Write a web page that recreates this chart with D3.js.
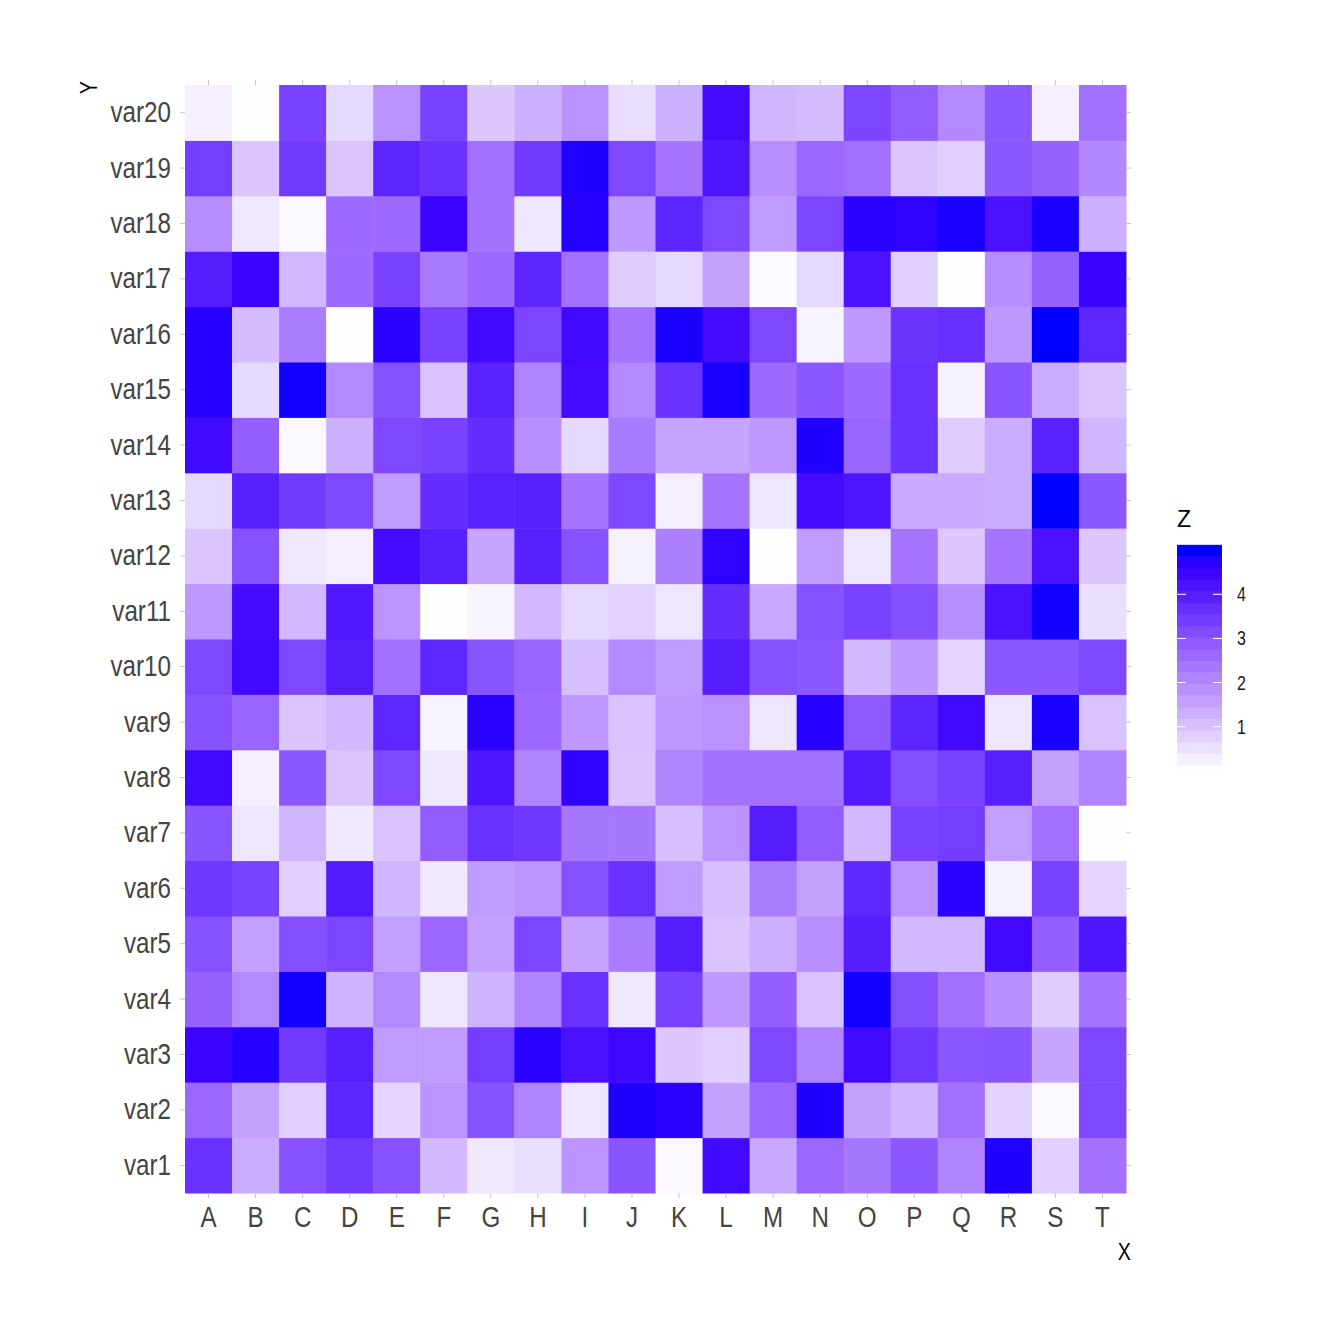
<!DOCTYPE html>
<html>
<head>
<meta charset="utf-8">
<script src="https://cdn.jsdelivr.net/npm/d3@7"></script>
<style>
  body { margin: 0; background: #fff; }
  text { font-family: "Liberation Sans", Arial, sans-serif; }
</style>
</head>
<body>
<div id="heatmap"></div>
<script>
var svgWidth = 1344;
var svgHeight = 1344;

var panel = { left: 185, right: 1126, top: 85, bottom: 1193 };
var narrow = 0.82; // squeeze Arial into an Arial Narrow look

// categories
var xCats = ["A","B","C","D","E","F","G","H","I","J","K","L","M","N","O","P","Q","R","S","T"];
var yCats = d3.range(1, 21).map(d => "var" + d);
var legendTicks = [1, 2, 3, 4];

// Z values, one row per y category, columns A..T
var zVar1  = [3.6,1.35,3.05,3.45,3.05,1.15,0.4,0.55,1.8,3.0,0.15,4.4,1.45,2.65,2.35,2.95,2.1,4.8,0.8,2.45];
var zVar2  = [2.65,1.55,0.8,3.85,0.7,1.8,3.05,2.1,0.45,4.8,4.7,1.55,2.65,4.8,1.55,1.2,2.5,0.75,0.15,3.2];
var zVar3  = [4.5,4.75,3.45,3.95,1.65,1.65,3.4,4.7,4.25,4.45,0.9,0.8,3.2,2.1,4.4,3.5,2.95,3.0,1.5,3.2];
var zVar4  = [2.75,2.0,4.9,1.25,2.0,0.45,1.25,2.1,3.6,0.4,3.3,1.7,2.8,1.0,4.9,3.1,2.45,1.9,0.85,2.4];
var zVar5  = [3.05,1.6,3.1,3.25,1.6,2.65,1.6,3.25,1.5,2.25,4.0,0.95,1.3,1.9,4.0,1.15,1.15,4.4,2.8,4.15];
var zVar6  = [3.5,3.3,0.8,4.05,1.2,0.4,1.65,1.8,3.05,3.6,1.65,1.05,2.25,1.55,3.8,1.8,4.7,0.25,3.3,0.7];
var zVar7  = [3.0,0.45,1.2,0.4,1.0,2.85,3.6,3.5,2.35,2.35,1.05,1.8,4.0,2.85,1.15,3.3,3.4,1.6,2.5,0.05];
var zVar8  = [4.4,0.3,2.95,0.95,3.2,0.4,4.15,2.1,4.65,0.95,2.1,2.45,2.45,2.45,4.05,3.1,3.3,3.95,1.55,2.1];
var zVar9  = [3.05,2.7,0.95,1.15,3.8,0.2,4.7,2.65,1.7,1.0,1.75,1.85,0.45,4.75,2.9,3.85,4.4,0.45,4.85,1.0];
var zVar10 = [3.2,4.4,3.2,4.0,2.5,3.8,3.0,2.7,1.05,2.0,1.65,4.0,3.05,2.95,1.15,1.7,0.7,2.95,2.95,3.2];
var zVar11 = [1.75,4.35,1.15,4.1,1.8,0.02,0.2,1.15,0.65,0.75,0.45,3.7,1.45,3.05,3.3,3.1,1.9,4.2,4.9,0.55];
var zVar12 = [0.95,3.05,0.4,0.3,4.35,3.95,1.5,3.95,3.05,0.25,2.2,4.65,0.05,1.65,0.45,2.4,0.9,2.4,4.2,0.9];
var zVar13 = [0.65,3.95,3.45,3.2,1.65,3.7,3.9,3.95,2.4,3.2,0.3,2.4,0.45,4.35,4.15,1.4,1.4,1.35,4.98,2.95];
var zVar14 = [4.4,2.8,0.15,1.3,3.2,3.3,3.7,1.9,0.65,2.3,1.5,1.5,1.75,4.8,2.7,3.6,0.85,1.35,3.9,1.2];
var zVar15 = [4.75,0.65,4.9,2.0,3.05,1.0,3.9,2.1,4.35,2.0,3.6,4.85,2.6,2.95,2.6,3.6,0.25,3.0,1.35,0.95];
var zVar16 = [4.75,1.1,2.25,0.04,4.7,3.3,4.4,3.25,4.4,2.4,4.85,4.35,3.2,0.22,1.7,3.55,3.65,1.7,4.99,3.8];
var zVar17 = [4.0,4.5,1.15,2.6,3.3,2.3,2.6,3.85,2.5,0.85,0.65,1.55,0.07,0.65,4.2,0.8,0.01,1.95,2.75,4.55];
var zVar18 = [1.95,0.4,0.15,2.6,2.6,4.5,2.45,0.45,4.75,1.7,3.85,3.2,1.65,3.25,4.7,4.65,4.85,4.2,4.85,1.3];
var zVar19 = [3.4,0.95,3.45,0.95,3.85,3.6,2.5,3.45,4.8,3.2,2.4,4.15,1.9,2.65,2.5,0.95,0.8,2.95,2.75,2.05];
var zVar20 = [0.28,0.03,3.3,0.65,1.85,3.3,0.9,1.3,1.85,0.6,1.3,4.35,1.2,1.1,3.25,2.85,2.0,2.95,0.28,2.5];

var zRows = [zVar1, zVar2, zVar3, zVar4, zVar5, zVar6, zVar7, zVar8, zVar9, zVar10,
  zVar11, zVar12, zVar13, zVar14, zVar15, zVar16, zVar17, zVar18, zVar19, zVar20];

// fill ramp (white -> blue through violet)
var rampStops  = [0, 0.3, 0.6, 0.9, 1.2, 1.5, 1.8, 2.1, 2.4, 2.7, 3.0, 3.3, 3.6, 3.9, 4.2, 4.5, 4.8, 5.0];
var rampColors = ["#ffffff","#f4eeff","#e8dcff","#dcc8ff","#d0b6ff","#c6a4ff","#bc94ff","#b084ff","#a674ff",
  "#9a64ff","#8a54ff","#7a42ff","#6a32ff","#5a22ff","#4c12ff","#3c04ff","#2200ff","#0000ff"];

// flatten into cells
var cells = [];
zRows.forEach(function(row, i) {
  row.forEach(function(z, j) {
    cells.push({ x: xCats[j], y: yCats[i], z: z });
  });
});

var svg = d3.select("#heatmap")
  .append("svg")
  .attr("width", svgWidth)
  .attr("height", svgHeight);

var xScale = d3.scaleBand().domain(xCats).range([panel.left, panel.right]);
var yScale = d3.scaleBand().domain(yCats).range([panel.bottom, panel.top]);

var colorScale = d3.scaleLinear()
  .domain(rampStops)
  .range(rampColors)
  .interpolate(d3.interpolateRgb)
  .clamp(true);

// tiles
svg.append("g")
  .selectAll("rect")
  .data(cells)
  .enter()
  .append("rect")
  .attr("x", d => xScale(d.x))
  .attr("y", d => yScale(d.y))
  .attr("width", xScale.bandwidth() + 0.5)
  .attr("height", yScale.bandwidth() + 0.5)
  .attr("fill", d => colorScale(d.z));

// axes
function styleAxis(g, showText) {
  g.select(".domain").remove();
  g.selectAll(".tick line").attr("stroke", "#c4c4c4").attr("stroke-width", 1);
  g.selectAll(".tick text")
    .attr("fill", "#444444")
    .style("font-size", "29.5px")
    .style("display", showText ? null : "none");
}

svg.append("g")
  .attr("transform", `translate(0, ${panel.bottom})`)
  .call(d3.axisBottom(xScale).tickSize(5).tickPadding(8.5))
  .call(g => styleAxis(g, true))
  .call(g => g.selectAll(".tick text").attr("transform", `scale(${narrow},1)`));

svg.append("g")
  .attr("transform", `translate(0, ${panel.top})`)
  .call(d3.axisTop(xScale).tickSize(5))
  .call(g => styleAxis(g, false));

svg.append("g")
  .attr("transform", `translate(${panel.left}, 0)`)
  .call(d3.axisLeft(yScale).tickSize(5).tickPadding(9))
  .call(g => styleAxis(g, true))
  .call(g => g.selectAll(".tick text")
    .attr("x", -14 / narrow)
    .attr("transform", `scale(${narrow},1)`));

svg.append("g")
  .attr("transform", `translate(${panel.right}, 0)`)
  .call(d3.axisRight(yScale).tickSize(5))
  .call(g => styleAxis(g, false));

// axis titles
svg.append("text")
  .attr("transform", `translate(1131, 1260) scale(${narrow},1)`)
  .attr("text-anchor", "end")
  .style("font-size", "24px")
  .text("X");

svg.append("text")
  .attr("transform", `translate(97, 81) rotate(-90) scale(${narrow},1)`)
  .attr("text-anchor", "end")
  .style("font-size", "24px")
  .text("Y");

// legend (colourbar drawn as 20 bins like ggplot)
var zExtent = d3.extent(cells, d => d.z);
var legend = { x: 1177, w: 45 };
var legendScale = d3.scaleLinear().domain([1, 4]).range([726.7, 594.3]);
var nbin = 20;
var binStep = (zExtent[1] - zExtent[0]) / (nbin - 1);
var bins = d3.range(nbin).map(i => zExtent[0] + i * binStep);

svg.append("g")
  .selectAll("rect")
  .data(bins)
  .enter()
  .append("rect")
  .attr("x", legend.x)
  .attr("y", d => legendScale(d + binStep / 2))
  .attr("width", legend.w)
  .attr("height", d => legendScale(d - binStep / 2) - legendScale(d + binStep / 2) + 0.5)
  .attr("fill", d => colorScale(d));

var lt = svg.append("g").selectAll("g")
  .data(legendTicks)
  .enter()
  .append("g")
  .attr("transform", d => `translate(0, ${legendScale(d)})`);

lt.append("line")
  .attr("x1", legend.x).attr("x2", legend.x + 9)
  .attr("stroke", "#fff").attr("stroke-width", 1);
lt.append("line")
  .attr("x1", legend.x + legend.w - 9).attr("x2", legend.x + legend.w)
  .attr("stroke", "#fff").attr("stroke-width", 1);
lt.append("text")
  .attr("transform", `translate(${legend.x + legend.w + 15}, 0) scale(${narrow},1)`)
  .attr("dy", "0.36em")
  .attr("fill", "#1a1a1a")
  .style("font-size", "19.5px")
  .text(d => d);

svg.append("text")
  .attr("x", legend.x)
  .attr("y", 527)
  .style("font-size", "23px")
  .text("Z");
</script>
</body>
</html>
